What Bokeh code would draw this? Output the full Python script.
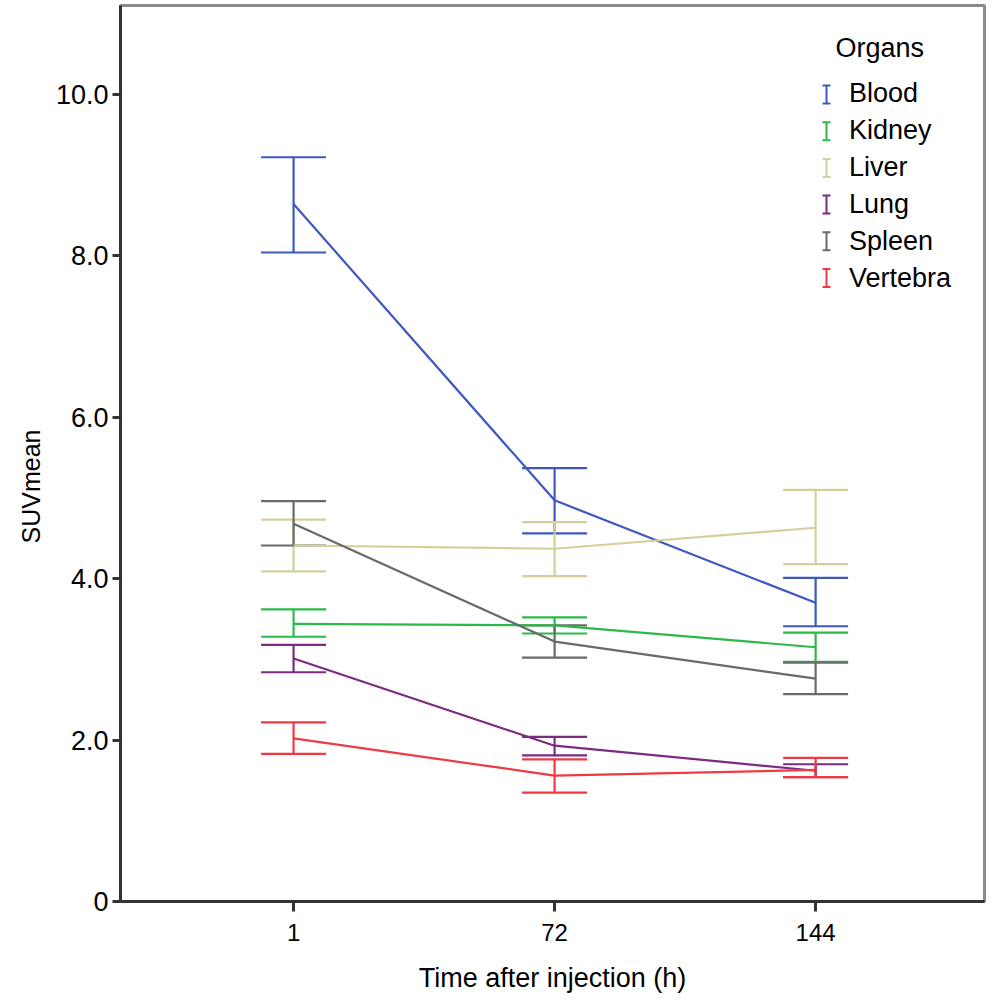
from bokeh.plotting import figure
from bokeh.models import (ColumnDataSource, Whisker, TeeHead, FixedTicker, Legend,
                          LegendItem, Label, Range1d, Title)
from bokeh.embed import file_html
from bokeh.resources import INLINE

# ---------------- data ----------------
time_labels = ["1", "72", "144"]
organs = ["Blood", "Kidney", "Liver", "Lung", "Spleen", "Vertebra"]

blood_mean = [8.64, 4.97, 3.70]
blood_upper = [9.22, 5.37, 4.01]
blood_lower = [8.04, 4.56, 3.41]

kidney_mean = [3.44, 3.42, 3.15]
kidney_upper = [3.62, 3.52, 3.33]
kidney_lower = [3.28, 3.32, 2.97]

liver_mean = [4.41, 4.37, 4.63]
liver_upper = [4.73, 4.70, 5.10]
liver_lower = [4.09, 4.03, 4.18]

lung_mean = [3.01, 1.93, 1.62]
lung_upper = [3.18, 2.04, 1.70]
lung_lower = [2.84, 1.81, 1.54]

spleen_mean = [4.68, 3.22, 2.76]
spleen_upper = [4.96, 3.42, 2.96]
spleen_lower = [4.41, 3.02, 2.57]

vertebra_mean = [2.02, 1.56, 1.63]
vertebra_upper = [2.22, 1.76, 1.78]
vertebra_lower = [1.83, 1.35, 1.54]

y_ticks = [0, 2, 4, 6, 8, 10]
y_tick_labels = ["0", "2.0", "4.0", "6.0", "8.0", "10.0"]

colors = ["#3e58bf", "#2db84a", "#d4cf9d", "#7a2c80", "#6a6a6a", "#ee3a43"]

means = [blood_mean, kidney_mean, liver_mean, lung_mean, spleen_mean, vertebra_mean]
uppers = [blood_upper, kidney_upper, liver_upper, lung_upper, spleen_upper, vertebra_upper]
lowers = [blood_lower, kidney_lower, liver_lower, lung_lower, spleen_lower, vertebra_lower]

FONT = "Liberation Sans"

# ---------------- layout ----------------
W, H = 988, 1000
BL, BR, BT, BB = 120, 4, 5, 99
X0, X1 = -0.663, 2.647
Y0, Y1 = 0, 11.10
frame_w = W - BL - BR
frame_h = H - BT - BB
px_x = frame_w / (X1 - X0)   # pixels per x unit
px_y = frame_h / (Y1 - Y0)   # pixels per y unit


def sx_to_data(sx):
    return X0 + (sx - BL) / px_x


def sy_to_data(sy):
    return Y0 + (H - BB - sy) / px_y


x_idx = list(range(len(time_labels)))

p = figure(width=W, height=H,
           x_range=Range1d(X0, X1), y_range=Range1d(Y0, Y1),
           output_backend="svg", toolbar_location=None,
           min_border_left=BL, min_border_right=BR, min_border_top=BT,
           min_border_bottom=BB)

p.background_fill_color = "white"
p.border_fill_color = "white"
p.outline_line_color = "#8a8a8a"
p.outline_line_width = 3
p.xgrid.visible = False
p.ygrid.visible = False

# legend geometry (screen px)
LEG_ICON_X = 826
LEG_ROW0 = 94
LEG_STEP = 36.7

legend_items = []
for i, (name, c, m, up, lo) in enumerate(zip(organs, colors, means, uppers, lowers)):
    src = ColumnDataSource(dict(x=x_idx, mean=m, upper=up, lower=lo))
    p.line("x", "mean", source=src, line_color=c, line_width=2.2)
    w = Whisker(base="x", upper="upper", lower="lower", source=src,
                line_color=c, line_width=2.2,
                upper_head=TeeHead(size=65, line_color=c, line_width=2.2),
                lower_head=TeeHead(size=65, line_color=c, line_width=2.2))
    p.add_layout(w)
    key = p.vspan(x="x", source=ColumnDataSource(dict(x=[])),
                  line_color=c, line_width=2)
    legend_items.append(LegendItem(label=name, renderers=[key]))

    # legend key: small error-bar ("I") symbol
    cy = LEG_ROW0 + i * LEG_STEP
    xc = sx_to_data(LEG_ICON_X)
    xl = sx_to_data(LEG_ICON_X - 4)
    xr = sx_to_data(LEG_ICON_X + 4)
    yt = sy_to_data(cy - 9)
    yb = sy_to_data(cy + 9)
    p.segment(x0=[xc, xl, xl], y0=[yb, yt, yb], x1=[xc, xr, xr], y1=[yt, yt, yb],
              line_color=c, line_width=2)

legend = Legend(items=legend_items, location=(688, 604))
legend.glyph_width = 37
legend.glyph_height = 20
legend.label_height = 37
legend.spacing = 0
legend.padding = 0
legend.margin = 0
legend.label_standoff = 4
legend.label_text_font = FONT
legend.label_text_font_size = "27px"
legend.label_text_color = "black"
legend.border_line_color = None
legend.background_fill_alpha = 0
p.add_layout(legend)

p.add_layout(Label(x=sx_to_data(835), y=sy_to_data(47), text="Organs", text_font=FONT,
                   text_font_size="27px", text_baseline="middle",
                   text_align="left", text_color="black"))

# axes
p.xaxis.ticker = FixedTicker(ticks=x_idx)
p.xaxis.major_label_overrides = {i: t for i, t in zip(x_idx, time_labels)}
p.yaxis.ticker = FixedTicker(ticks=y_ticks)
p.yaxis.major_label_overrides = {v: t for v, t in zip(y_ticks, y_tick_labels)}

for ax in (p.xaxis, p.yaxis):
    ax.axis_line_color = "#333333"
    ax.axis_line_width = 3
    ax.major_tick_line_color = "#333333"
    ax.major_tick_line_width = 3
    ax.major_tick_in = 0
    ax.minor_tick_line_color = None
    ax.major_label_text_color = "black"
    ax.major_label_text_font = FONT
    ax.axis_label_text_font = FONT
    ax.axis_label_text_font_style = "normal"
    ax.axis_label_text_color = "black"

p.xaxis.major_label_text_font_size = "24px"
p.yaxis.major_label_text_font_size = "27px"
p.xaxis.axis_label_text_font_size = "27px"

p.xaxis.major_tick_out = 10
p.xaxis.major_label_standoff = 12
p.xaxis.axis_label = "Time after injection (h)"
p.xaxis.axis_label_standoff = 19

p.yaxis.major_tick_out = 8
p.yaxis.major_label_standoff = 4

# y axis title, placed like the original (a little below the frame centre)
ytitle = Title(text="SUVmean", align="left", offset=358, text_font=FONT,
               text_font_size="25px", text_font_style="normal",
               text_color="black", standoff=16)
p.add_layout(ytitle, "left")

open("out.html", "w").write(file_html(p, INLINE))
